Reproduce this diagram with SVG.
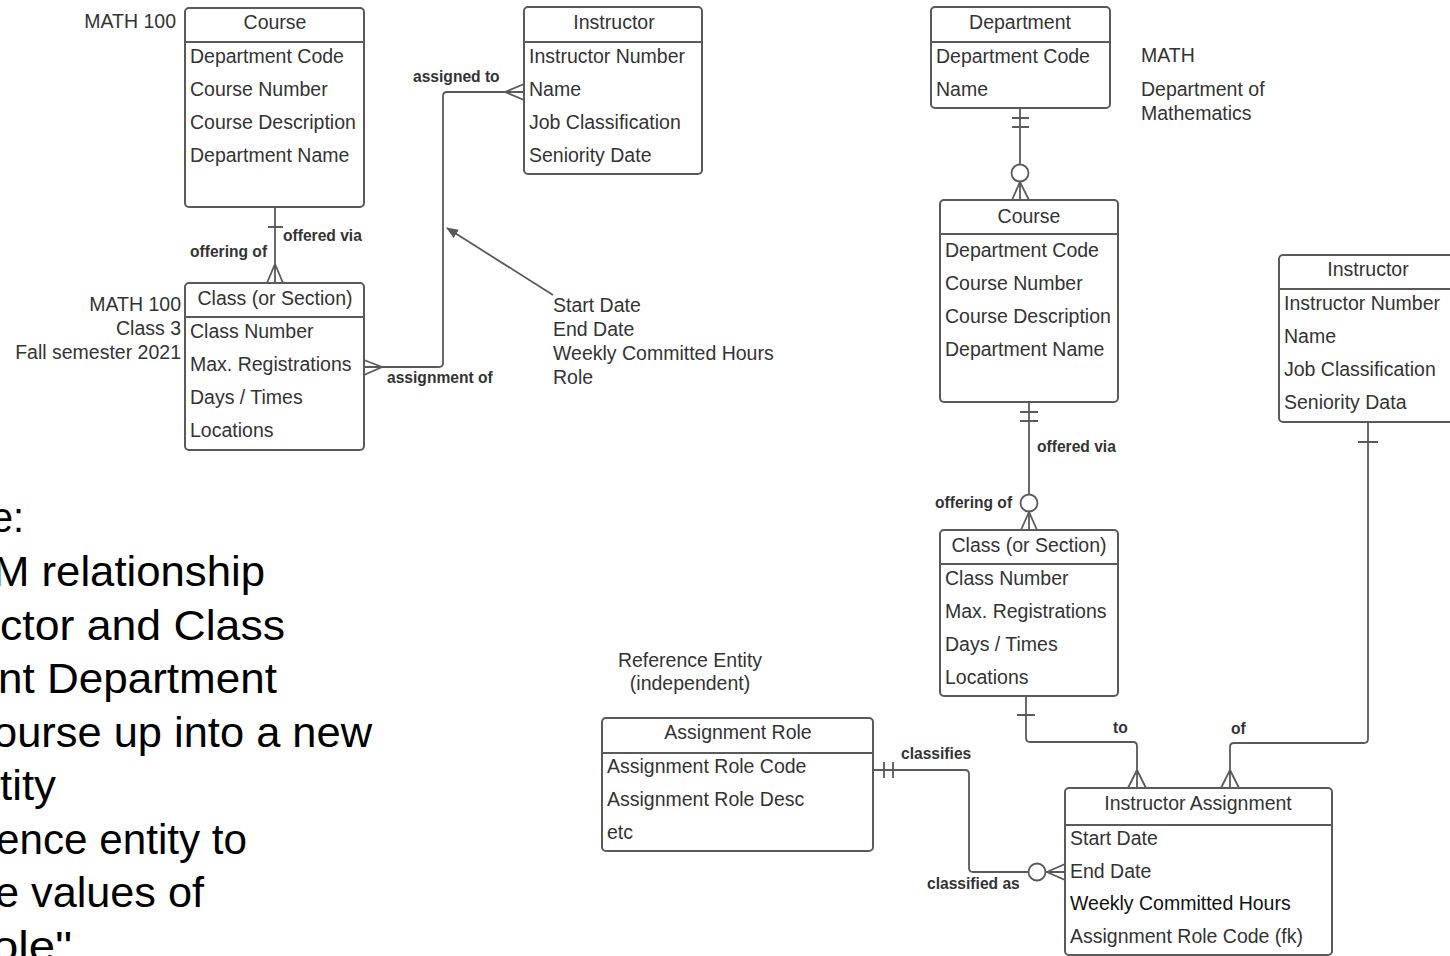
<svg xmlns="http://www.w3.org/2000/svg" width="1450" height="956" viewBox="0 0 1450 956">
  <style>
    .box { fill: #ffffff; stroke: #5a5a5a; stroke-width: 2; }
    .hdr { stroke: #5a5a5a; stroke-width: 2; }
    .t { font-family: "Liberation Sans", Arial, sans-serif; font-size: 19.5px; fill: #333333; }
    .c { text-anchor: middle; }
    .r { text-anchor: end; }
    .lbl { font-family: "Liberation Sans", Arial, sans-serif; font-size: 15.6px; font-weight: bold; fill: #333333; }
    .note { font-family: "Liberation Sans", Arial, sans-serif; font-size: 42px; fill: #000000; }
    .conn { fill: none; stroke: #5a5a5a; stroke-width: 1.8; }
    .ring { fill: #ffffff; stroke: #5a5a5a; stroke-width: 1.8; }
  </style>
  <defs>
    <marker id="arrowhead" viewBox="0 0 12 10" refX="11" refY="5" markerWidth="12" markerHeight="10" markerUnits="userSpaceOnUse" orient="auto">
      <path d="M0 0 L12 5 L0 10 Z" fill="#5a5a5a"/>
    </marker>
  </defs>
  <rect width="1450" height="956" fill="#ffffff"/>

  <!-- Notes on the left edge -->
  <g id="notes">
    <text class="note" x="-9" y="532" textLength="33" lengthAdjust="spacingAndGlyphs">e:</text>
    <text class="note" x="-7" y="586" textLength="272" lengthAdjust="spacingAndGlyphs">M relationship</text>
    <text class="note" x="0" y="640" textLength="285" lengthAdjust="spacingAndGlyphs">ctor and Class</text>
    <text class="note" x="-2" y="693" textLength="279" lengthAdjust="spacingAndGlyphs">nt Department</text>
    <text class="note" x="-7" y="747" textLength="379" lengthAdjust="spacingAndGlyphs">ourse up into a new</text>
    <text class="note" x="0" y="800" textLength="56" lengthAdjust="spacingAndGlyphs">tity</text>
    <text class="note" x="-4" y="854" textLength="251" lengthAdjust="spacingAndGlyphs">ence entity to</text>
    <text class="note" x="-5" y="907" textLength="209" lengthAdjust="spacingAndGlyphs">e values of</text>
    <text class="note" x="-8" y="961" textLength="80" lengthAdjust="spacingAndGlyphs">ole"</text>
  </g>

  <!-- Before: Course / Class / Instructor -->
  <g id="course-before">
    <rect class="box" x="185" y="8" width="179" height="199" rx="4"/>
    <line class="hdr" x1="185" y1="42" x2="364" y2="42"/>
    <text class="t c" x="275" y="29">Course</text>
    <text class="t" x="190" y="63">Department Code</text>
    <text class="t" x="190" y="96">Course Number</text>
    <text class="t" x="190" y="129">Course Description</text>
    <text class="t" x="190" y="162">Department Name</text>
    <text class="t r" x="176" y="28">MATH 100</text>
  </g>

  <g id="class-before">
    <rect class="box" x="185" y="283" width="179" height="167" rx="4"/>
    <line class="hdr" x1="185" y1="317" x2="364" y2="317"/>
    <text class="t c" x="275" y="305">Class (or Section)</text>
    <text class="t" x="190" y="338">Class Number</text>
    <text class="t" x="190" y="371">Max. Registrations</text>
    <text class="t" x="190" y="404">Days / Times</text>
    <text class="t" x="190" y="437">Locations</text>
    <text class="t r" x="181" y="311">MATH 100</text>
    <text class="t r" x="181" y="335">Class 3</text>
    <text class="t r" x="181" y="359">Fall semester 2021</text>
  </g>

  <g id="instructor-before">
    <rect class="box" x="524" y="7" width="178" height="167" rx="4"/>
    <line class="hdr" x1="524" y1="42" x2="702" y2="42"/>
    <text class="t c" x="614" y="29">Instructor</text>
    <text class="t" x="529" y="63">Instructor Number</text>
    <text class="t" x="529" y="96">Name</text>
    <text class="t" x="529" y="129">Job Classification</text>
    <text class="t" x="529" y="162">Seniority Date</text>
  </g>

  <g id="assignment-attributes">
    <text class="t" x="553" y="312">Start Date</text>
    <text class="t" x="553" y="336">End Date</text>
    <text class="t" x="553" y="360">Weekly Committed Hours</text>
    <text class="t" x="553" y="384">Role</text>
  </g>

  <!-- After: Department / Course / Class / Instructor / Assignment -->
  <g id="department">
    <rect class="box" x="931" y="7" width="179" height="101" rx="4"/>
    <line class="hdr" x1="931" y1="42" x2="1110" y2="42"/>
    <text class="t c" x="1020" y="29">Department</text>
    <text class="t" x="936" y="63">Department Code</text>
    <text class="t" x="936" y="96">Name</text>
    <text class="t" x="1141" y="62">MATH</text>
    <text class="t" x="1141" y="96">Department of</text>
    <text class="t" x="1141" y="120">Mathematics</text>
  </g>

  <g id="course">
    <rect class="box" x="940" y="200" width="178" height="202" rx="4"/>
    <line class="hdr" x1="940" y1="234" x2="1118" y2="234"/>
    <text class="t c" x="1029" y="223">Course</text>
    <text class="t" x="945" y="257">Department Code</text>
    <text class="t" x="945" y="290">Course Number</text>
    <text class="t" x="945" y="323">Course Description</text>
    <text class="t" x="945" y="356">Department Name</text>
  </g>

  <g id="class">
    <rect class="box" x="940" y="530" width="178" height="166" rx="4"/>
    <line class="hdr" x1="940" y1="564" x2="1118" y2="564"/>
    <text class="t c" x="1029" y="552">Class (or Section)</text>
    <text class="t" x="945" y="585">Class Number</text>
    <text class="t" x="945" y="618">Max. Registrations</text>
    <text class="t" x="945" y="651">Days / Times</text>
    <text class="t" x="945" y="684">Locations</text>
  </g>

  <g id="instructor">
    <rect class="box" x="1279" y="255" width="178" height="167" rx="4"/>
    <line class="hdr" x1="1279" y1="289" x2="1457" y2="289"/>
    <text class="t c" x="1368" y="276">Instructor</text>
    <text class="t" x="1284" y="310">Instructor Number</text>
    <text class="t" x="1284" y="343">Name</text>
    <text class="t" x="1284" y="376">Job Classification</text>
    <text class="t" x="1284" y="409">Seniority Data</text>
  </g>

  <g id="assignment-role">
    <text class="t c" x="690" y="667">Reference Entity</text>
    <text class="t c" x="690" y="690">(independent)</text>
    <rect class="box" x="602" y="718" width="271" height="133" rx="4"/>
    <line class="hdr" x1="602" y1="753" x2="873" y2="753"/>
    <text class="t c" x="738" y="739">Assignment Role</text>
    <text class="t" x="607" y="773">Assignment Role Code</text>
    <text class="t" x="607" y="806">Assignment Role Desc</text>
    <text class="t" x="607" y="839">etc</text>
  </g>

  <g id="instructor-assignment">
    <rect class="box" x="1065" y="788" width="267" height="167" rx="4"/>
    <line class="hdr" x1="1065" y1="825" x2="1332" y2="825"/>
    <text class="t c" x="1198" y="810">Instructor Assignment</text>
    <text class="t" x="1070" y="845">Start Date</text>
    <text class="t" x="1070" y="878">End Date</text>
    <text class="t" x="1070" y="910" style="fill:#111111">Weekly Committed Hours</text>
    <text class="t" x="1070" y="943">Assignment Role Code (fk)</text>
  </g>

  <!-- Relationships -->
  <g id="connectors">
    <!-- Course -> Class (before) -->
    <path class="conn" d="M275 207 V283 M268 227 H283 M267 283 L275 264 L283 283"/>
    <text class="lbl" x="283" y="241">offered via</text>
    <text class="lbl" x="190" y="257">offering of</text>

    <!-- Class <-> Instructor (many to many) -->
    <path class="conn" d="M364 367 H439 Q443 367 443 363 V96 Q443 92 447 92 H524"/>
    <path class="conn" d="M364 360 L382 367 L364 375 M524 84 L505 92 L524 100"/>
    <text class="lbl" x="413" y="82">assigned to</text>
    <text class="lbl" x="387" y="383">assignment of</text>
    <path class="conn" d="M553 295 L447 228" marker-end="url(#arrowhead)"/>

    <!-- Department -> Course -->
    <path class="conn" d="M1020 108 V200 M1012 118 H1029 M1012 127 H1029"/>
    <circle class="ring" cx="1020" cy="173" r="8.5"/>
    <path class="conn" d="M1012 200 L1020 182 L1029 200"/>

    <!-- Course -> Class -->
    <path class="conn" d="M1029 402 V530 M1020 412 H1038 M1020 421 H1038"/>
    <circle class="ring" cx="1029" cy="503" r="8.5"/>
    <path class="conn" d="M1021 530 L1029 512 L1037 530"/>
    <text class="lbl" x="1037" y="452">offered via</text>
    <text class="lbl" x="935" y="508">offering of</text>

    <!-- Class -> Instructor Assignment -->
    <path class="conn" d="M1026 696 V738 Q1026 742 1030 742 H1133 Q1137 742 1137 746 V788 M1017 715 H1035 M1128 788 L1137 770 L1146 788"/>
    <text class="lbl" x="1113" y="733">to</text>

    <!-- Instructor -> Instructor Assignment -->
    <path class="conn" d="M1368 422 V739 Q1368 743 1364 743 H1234 Q1230 743 1230 747 V788 M1358 442 H1378 M1221 788 L1230 770 L1239 788"/>
    <text class="lbl" x="1231" y="734">of</text>

    <!-- Assignment Role -> Instructor Assignment -->
    <path class="conn" d="M873 770 H965 Q969 770 969 774 V868 Q969 872 973 872 H1065 M884 762 V778 M893 762 V778"/>
    <circle class="ring" cx="1037" cy="872" r="8.5"/>
    <path class="conn" d="M1065 864 L1047 872 L1065 880"/>
    <text class="lbl" x="901" y="759">classifies</text>
    <text class="lbl" x="927" y="889">classified as</text>
  </g>
</svg>
